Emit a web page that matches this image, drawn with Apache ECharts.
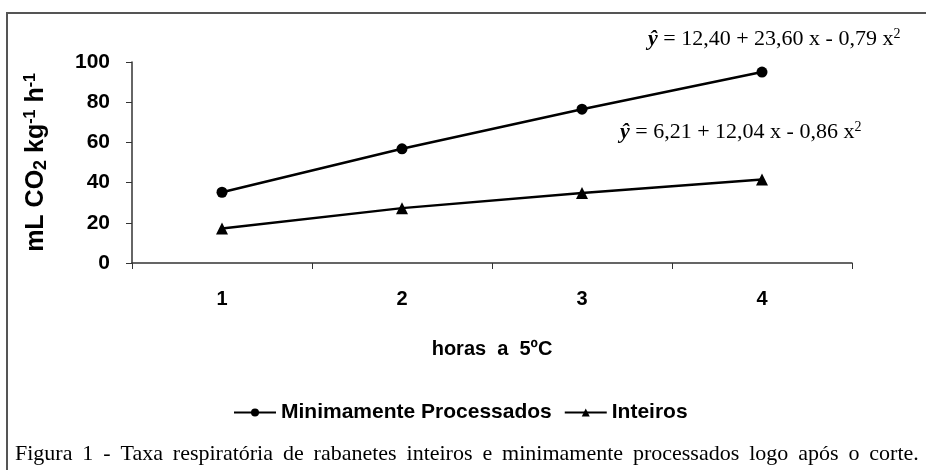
<!DOCTYPE html>
<html>
<head>
<meta charset="utf-8">
<script src="https://cdn.jsdelivr.net/npm/echarts@6/dist/echarts.min.js"></script>
<style>
  html, body { margin: 0; padding: 0; background: #fff; }
  #chart { width: 926px; height: 470px; }
</style>
</head>
<body>
<div id="chart"></div>
<script>
const hours = ['1', '2', '3', '4'];
const processados = [35.2, 56.8, 76.5, 95.0];
const inteiros = [17.2, 27.3, 34.8, 41.5];
const yTicks = { min: 0, max: 100, interval: 20 };

const sans = 'Liberation Sans, Arial, sans-serif';
const serif = 'Liberation Serif, Times New Roman, serif';

const caption = 'Figura 1 - Taxa respiratória de rabanetes inteiros e minimamente processados logo após o corte.';

const chart = echarts.init(document.getElementById('chart'));

const eqRich = {
    i: { fontFamily: serif, fontStyle: 'italic', fontWeight: 'bold', fontSize: 22, color: '#000' },
    t: { fontFamily: serif, fontSize: 22, color: '#000' },
    s: { fontFamily: serif, fontSize: 14, color: '#000', verticalAlign: 'top', padding: [0, 0, 10, 0] },
};

chart.setOption({
    animation: false,
    grid: { left: 132, right: 74, top: 62, bottom: 207 },
    xAxis: {
        type: 'category',
        data: hours,
        boundaryGap: true,
        name: 'horas  a  5ºC',
        nameLocation: 'middle',
        nameGap: 76,
        nameTextStyle: { fontFamily: sans, fontWeight: 'bold', fontSize: 20, color: '#000' },
        axisLine: { lineStyle: { color: '#333', width: 1.5 } },
        axisTick: { show: true, length: 6, lineStyle: { color: '#333' } },
        axisLabel: { margin: 26, fontFamily: sans, fontWeight: 'bold', fontSize: 20, color: '#000' },
    },
    yAxis: {
        type: 'value',
        min: yTicks.min,
        max: yTicks.max,
        interval: yTicks.interval,
        name: '{a|mL CO}{b|2}{a| kg}{c|-1}{a| h}{c|-1}',
        nameLocation: 'middle',
        nameGap: 82,
        nameTextStyle: {
            rich: {
                a: { fontFamily: sans, fontWeight: 'bold', fontSize: 25, color: '#000' },
                b: { fontFamily: sans, fontWeight: 'bold', fontSize: 18, color: '#000', verticalAlign: 'bottom', padding: [8, 0, 0, 0] },
                c: { fontFamily: sans, fontWeight: 'bold', fontSize: 16, color: '#000', verticalAlign: 'top', padding: [0, 0, 11, 0] },
            },
        },
        splitLine: { show: false },
        axisLine: { show: true, lineStyle: { color: '#333', width: 1.5 } },
        axisTick: { show: true, length: 6, lineStyle: { color: '#333' } },
        axisLabel: { margin: 22, fontFamily: sans, fontWeight: 'bold', fontSize: 21, color: '#000' },
    },
    legend: {
        bottom: 42,
        left: 228,
        itemWidth: 42,
        itemHeight: 10,
        itemGap: 12,
        textStyle: { fontFamily: sans, fontWeight: 'bold', fontSize: 21, color: '#000' },
        data: ['Minimamente Processados', 'Inteiros'],
    },
    series: [
        {
            name: 'Minimamente Processados',
            type: 'line',
            data: processados,
            symbol: 'circle',
            symbolSize: 11,
            lineStyle: { color: '#000', width: 2.5 },
            itemStyle: { color: '#000' },
        },
        {
            name: 'Inteiros',
            type: 'line',
            data: inteiros,
            symbol: 'triangle',
            symbolSize: 12,
            lineStyle: { color: '#000', width: 2.5 },
            itemStyle: { color: '#000' },
        },
    ],
    graphic: [
        {
            type: 'rect',
            shape: { x: 7, y: 13, width: 940, height: 480 },
            style: { fill: 'none', stroke: '#555', lineWidth: 2 },
            silent: true,
        },
        {
            type: 'text',
            left: 648, top: 27,
            style: {
                text: '{i|ŷ}{t| = 12,40 + 23,60 x - 0,79 x}{s|2}',
                rich: eqRich,
            },
        },
        {
            type: 'text',
            left: 620, top: 120,
            style: {
                text: '{i|ŷ}{t| = 6,21 + 12,04 x - 0,86 x}{s|2}',
                rich: eqRich,
            },
        },
        {
            type: 'text',
            left: 15, top: 443,
            style: {
                // wider word spacing, as in the justified caption
                text: caption.split(' ').join(' \u2009'),
                fontFamily: serif,
                fontSize: 22,
                fill: '#000',
            },
        },
    ],
});
</script>
</body>
</html>
